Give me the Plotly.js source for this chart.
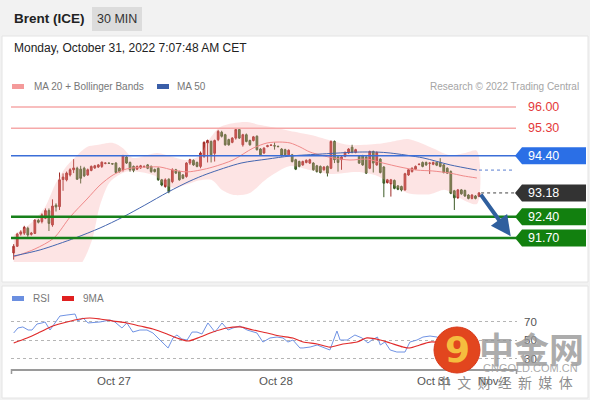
<!DOCTYPE html>
<html>
<head>
<meta charset="utf-8">
<script src="https://cdn.plot.ly/plotly-3.0.1.min.js"></script>
<style>
html,body{margin:0;padding:0;background:#f2f2f2;}
#chart{width:590px;height:400px;}
</style>
</head>
<body>
<div id="chart"></div>
<script>
// ---------- data ----------
const candleOpen = [91.21,91.43,91.83,91.86,92.02,91.82,91.85,92.28,92.24,92.35,
92.60,92.13,92.78,92.73,93.62,93.61,93.77,93.94,93.99,93.96,
93.99,93.77,93.92,94.00,94.03,94.05,94.15,94.16,94.14,94.16,
93.99,93.94,94.36,94.18,94.05,93.96,94.00,94.04,94.10,94.05,
93.95,93.99,93.61,93.39,93.63,93.55,93.94,93.88,93.77,93.72,
94.16,94.25,94.18,94.05,94.38,94.82,94.87,94.48,94.93,95.17,
95.09,94.93,94.84,94.98,95.26,
94.76,95.09,94.90,94.90,95.04,94.62,94.49,94.70,94.74,94.73,
94.71,94.62,94.60,94.43,94.43,94.27,94.21,94.10,94.18,94.16,
94.16,94.07,94.05,93.94,94.05,93.99,94.87,94.36,94.27,94.38,
94.49,94.68,94.51,94.38,94.40,94.36,93.99,94.54,94.10,94.29,
94.03,93.52,93.48,93.59,93.41,93.39,93.28,93.77,93.88,93.96,
94.11,94.18,94.18,94.15,94.12,94.18,94.18,94.10,93.99,93.88,
93.25,93.02,93.28,93.26,93.11,93.00,93.08,93.07];
const candleHigh = [91.50,91.87,91.95,92.10,92.07,91.90,92.31,92.33,92.51,92.67,
92.67,92.97,92.84,93.85,93.82,93.88,93.99,94.29,94.04,94.07,
94.04,93.98,94.08,94.10,94.13,94.21,94.18,94.18,94.16,94.19,
94.02,94.43,94.40,94.21,94.08,94.08,94.10,94.08,94.13,94.08,
93.98,94.02,93.64,93.66,93.66,93.99,93.97,93.91,93.80,94.19,
94.30,94.28,94.21,94.54,94.87,94.93,94.90,94.93,95.25,95.22,
95.12,94.96,95.01,95.29,95.29,
95.12,95.13,94.93,95.05,95.07,94.65,94.68,94.76,94.77,94.84,
94.73,94.65,94.63,94.61,94.46,94.30,94.24,94.24,94.28,94.30,
94.19,94.10,94.08,94.06,94.08,94.90,94.90,94.40,94.40,94.54,
94.65,94.76,94.63,94.41,94.43,94.39,94.57,94.57,94.54,94.32,
94.06,93.64,93.64,93.62,93.44,93.42,93.84,93.97,94.02,94.08,
94.15,94.21,94.21,94.18,94.21,94.21,94.32,94.13,94.02,93.92,
93.28,93.31,93.31,93.29,93.14,93.14,93.11,93.21];
const candleLow = [90.99,91.41,91.78,91.80,91.74,91.78,91.83,92.18,92.18,92.32,
91.93,92.07,92.57,92.62,93.25,93.56,93.72,93.83,93.61,93.49,
93.70,93.74,93.89,93.97,94.00,94.00,94.12,94.13,94.11,93.82,
93.85,93.88,94.13,93.88,93.86,93.93,93.97,94.01,93.96,93.84,
93.85,93.58,93.40,93.35,93.17,93.50,93.80,93.58,93.63,93.68,
94.10,94.07,94.02,93.99,94.33,94.18,94.18,94.21,94.88,95.00,
94.73,94.73,94.81,94.93,94.95,
94.70,94.84,94.73,94.87,94.57,94.40,94.46,94.68,94.72,94.60,
94.68,94.37,94.40,94.40,94.18,93.93,94.02,94.07,94.15,94.13,
93.91,93.85,93.82,93.91,93.72,93.96,94.16,93.88,93.94,94.35,
94.46,94.48,94.48,94.13,94.07,93.80,93.96,93.85,94.07,93.82,
93.04,93.49,93.06,93.30,93.27,93.23,93.25,93.74,93.85,93.93,
94.09,94.02,94.07,93.80,94.09,94.06,94.02,93.82,93.80,93.14,
92.62,92.99,93.12,93.05,92.97,92.97,92.97,93.04];
const candleClose = [91.43,91.83,91.90,92.05,91.80,91.86,92.29,92.22,92.46,92.60,
92.18,92.75,92.72,93.61,93.70,93.83,93.94,94.00,93.63,93.66,
93.74,93.94,94.05,94.07,94.10,94.19,94.16,94.15,94.13,93.85,
93.88,94.40,94.16,93.94,93.92,94.05,94.07,94.05,93.99,93.88,
93.88,93.61,93.44,93.61,93.22,93.94,93.83,93.61,93.66,94.16,
94.27,94.10,94.05,94.49,94.84,94.90,94.43,94.90,95.20,95.04,
94.76,94.76,94.98,95.26,94.98,
95.09,94.87,94.76,95.02,94.60,94.43,94.65,94.73,94.75,94.72,
94.70,94.40,94.43,94.58,94.21,93.96,94.05,94.21,94.25,94.27,
93.94,93.88,93.85,94.03,93.83,94.87,94.27,94.18,94.36,94.51,
94.62,94.51,94.60,94.16,94.10,93.83,94.54,94.16,94.51,93.85,
93.50,93.61,93.61,93.33,93.30,93.28,93.81,93.94,93.99,94.05,
94.12,94.05,94.10,94.16,94.18,94.09,94.05,93.85,93.83,93.17,
93.02,93.28,93.15,93.08,93.00,93.11,93.00,93.18];

// MA20 (read at sample candle positions)
const ma20X = [0,6.0,11.4,16.0,20.8,24.5,28.2,32.1,37.8,41.5,45.2,49.2,52.9,56.5,62.2,67.9,71.9,75.5,78.4,81.2,84.1,90.6,95.4,100.2,104.8,109.6,114.4,118.9,123.8,127.5,131.4];
const ma20Y = [91.08,91.34,91.70,92.39,92.98,93.44,93.77,93.97,94.03,94.03,93.93,93.87,93.93,94.03,94.26,94.65,94.82,94.85,94.82,94.69,94.52,94.33,94.26,94.29,94.16,94.03,93.93,93.90,93.83,93.74,93.67];
// MA50
const ma50X = [0,7.5,17.4,24.5,31.0,37.2,43.8,50.0,54.8,64.5,71.9,78.4,87.7,97.4,103.2,106.8,116.1,123.8,131.4];
const ma50Y = [91.11,91.31,91.70,92.03,92.39,92.78,93.21,93.57,93.80,94.16,94.29,94.39,94.46,94.52,94.52,94.49,94.33,94.10,93.93];
// Bollinger upper / lower
const bbUpX = [0,4.6,8.9,11.7,14.6,18.0,20.8,23.6,28.2,31.0,33.8,37.8,40.7,43.5,49.2,52.9,54.8,58.5,62.2,66.2,69.9,74.7,78.4,84.3,90.6,95.4,103.2,107.9,111.9,118.1,123.8,128.1,131.4];
const bbUpY = [91.80,92.16,92.72,93.44,94.00,94.42,94.69,94.75,94.82,94.65,94.33,94.42,94.49,94.42,94.26,94.42,94.82,95.34,95.47,95.51,95.41,95.31,95.21,95.08,94.88,94.75,94.79,94.88,94.95,94.69,94.42,94.49,94.56];
const bbLoX = [0,13.1,18.8,22.2,24.5,27.3,31.6,35.8,40.1,42.9,45.8,48.6,52.9,56.3,59.1,62.8,67.0,71.3,78.4,84.1,89.7,97.4,102.5,106.8,111.6,118.1,122.4,126.0,131.4];
const bbLoY = [90.49,90.49,90.81,91.63,92.78,93.54,93.87,93.87,93.74,93.44,93.34,93.44,93.60,93.60,93.28,93.11,93.18,93.60,94.06,93.93,93.80,93.87,93.77,93.51,93.18,93.14,93.28,93.05,92.82];

// RSI and its 9-period MA
const rsiX = [0,1.2,2.6,4.1,5.2,6.6,8.0,8.9,10.3,11.7,13.1,15.1,17.4,18.2,19.7,21.1,23.6,24.5,27.3,28.7,30.7,32.1,33.8,35.8,37.8,39.5,41.5,43.8,45.2,46.3,47.7,49.2,50.6,52.0,53.4,55.1,57.1,59.1,60.8,62.2,64.2,66.2,69.0,70.7,72.7,74.7,76.4,77.8,79.2,81.2,82.1,84.1,86.1,87.7,89.7,91.7,92.6,94.6,96.8,98.8,100.5,101.6,103.2,104.0,105.3,106.8,108.7,111.0,112.4,114.4,116.1,118.1,120.1,123.8,128.1,132.0];
const rsiY = [57.6,63.0,64.1,60.8,60.8,67.3,68.4,69.5,60.8,68.4,75.9,77.0,78.1,70.5,73.8,68.4,69.5,69.5,71.6,69.5,63.0,68.4,58.6,60.8,60.8,57.6,50.0,41.4,52.2,55.4,51.1,50.0,58.6,58.6,56.5,68.4,58.6,68.4,60.8,63.0,65.1,60.8,57.6,47.8,52.2,53.2,52.2,47.8,50.0,41.4,41.4,42.4,44.6,42.4,39.2,59.7,50.0,50.0,55.4,52.2,46.8,50.0,53.2,44.6,47.8,39.2,37.0,37.0,47.8,50.0,53.2,54.3,53.2,44.6,41.4,45.7];
const rsiMaX = [0,3.8,7.5,11.1,15.1,18.8,21.6,24.5,28.2,32.1,35.8,39.5,43.5,46.3,49.4,52.9,56.5,60.5,64.2,67.9,71.9,75.5,79.2,82.1,86.1,89.7,93.4,97.4,100.2,104.0,106.8,110.5,112.4,115.2,118.1,122.4,126.6,132.0];
const rsiMaY = [46.8,52.2,58.6,65.1,69.5,72.7,73.8,72.7,70.5,68.4,65.1,61.9,56.5,52.2,48.9,53.2,58.6,63.0,64.1,60.8,57.6,54.3,52.2,47.8,45.7,42.4,45.7,47.8,52.2,50.0,46.8,42.4,41.4,44.6,47.8,46.8,44.6,44.6];

// Key levels
const levelValues = [96.00, 95.30, 94.40, 93.18, 92.40, 91.70];
const levelLabels = ["96.00", "95.30", "94.40", "93.18", "92.40", "91.70"];
const levelKinds  = ["resist", "resist", "pivot", "last", "support", "support"];

// Date axis
const dateTickPos = [28.45, 74.4, 119.2, 136.0];
const dateTickText = ["Oct 27", "Oct 28", "Oct 31", "Nov 1"];
const rsiTicks = [30, 50, 70];

const lastIdx = candleClose.length - 1;
const targetPrice = levelValues[5];

// ---------- build ----------
const FONT = "Liberation Sans, Arial, sans-serif";
const xIdx = candleOpen.map((_, i) => i);

const traces = [];
traces.push({
  type: "scatter", mode: "lines", xaxis: "x", yaxis: "y",
  x: bbUpX.concat(bbLoX.slice().reverse()),
  y: bbUpY.concat(bbLoY.slice().reverse()),
  fill: "toself", fillcolor: "rgba(250,165,165,0.30)",
  line: {width: 0, shape: "spline", smoothing: 0.8}, hoverinfo: "skip"
});
traces.push({type: "scatter", mode: "lines", x: ma20X, y: ma20Y,
  line: {color: "#f08a8a", width: 1, shape: "spline", smoothing: 0.8}, hoverinfo: "skip"});
traces.push({type: "scatter", mode: "lines", x: ma50X, y: ma50Y,
  line: {color: "#4466b0", width: 1, shape: "spline", smoothing: 0.8}, hoverinfo: "skip"});
traces.push({
  type: "candlestick", x: xIdx, open: candleOpen, high: candleHigh, low: candleLow, close: candleClose,
  increasing: {line: {color: "#9e2a25", width: 1}, fillcolor: "#c8322c"},
  decreasing: {line: {color: "#3b5a25", width: 1}, fillcolor: "#4f7a2e"},
  whiskerwidth: 0, hoverinfo: "skip", xaxis: "x", yaxis: "y"
});
traces.push({type: "scatter", mode: "lines", x: rsiX, y: rsiY, xaxis: "x2", yaxis: "y2",
  line: {color: "#7093e4", width: 1}, hoverinfo: "skip"});
traces.push({type: "scatter", mode: "lines", x: rsiMaX, y: rsiMaY, xaxis: "x2", yaxis: "y2",
  line: {color: "#e02a2a", width: 1.2, shape: "spline", smoothing: 0.8}, hoverinfo: "skip"});

const W = 590, H = 400;
const px = v => v / W;
const py = v => (H - v) / H;

const xRange = [-0.766, 142.78];
const yRange = [90.913, 96.394];
const pxPerPrice = 30.47;
const xDomain = [px(11), px(517)];

const shapes = [
  {type: "rect", xref: "paper", yref: "paper", x0: px(2), x1: px(588), y0: py(282), y1: py(36),
   fillcolor: "#ffffff", line: {color: "#e4e4e4", width: 1}, layer: "below"},
  {type: "rect", xref: "paper", yref: "paper", x0: px(2), x1: px(588), y0: py(398), y1: py(286),
   fillcolor: "#ffffff", line: {color: "#e4e4e4", width: 1}, layer: "below"},
  {type: "rect", xref: "paper", yref: "paper", x0: px(92), x1: px(142), y0: py(31), y1: py(7),
   fillcolor: "#dcdcdc", line: {width: 0}},
  {type: "rect", xref: "paper", yref: "paper", x0: px(12), x1: px(24), y0: py(89), y1: py(84),
   fillcolor: "#f49a9a", line: {width: 0}},
  {type: "rect", xref: "paper", yref: "paper", x0: px(157), x1: px(169), y0: py(89), y1: py(84),
   fillcolor: "#3a5ea8", line: {width: 0}},
  {type: "rect", xref: "paper", yref: "paper", x0: px(12), x1: px(24), y0: py(301), y1: py(296),
   fillcolor: "#6b8fe0", line: {width: 0}},
  {type: "rect", xref: "paper", yref: "paper", x0: px(62), x1: px(74), y0: py(301), y1: py(296),
   fillcolor: "#e02020", line: {width: 0}},
  // axis end marks
  {type: "line", xref: "paper", yref: "paper", x0: px(11.5), x1: px(11.5), y0: py(369), y1: py(374),
   line: {color: "#9a9a9a", width: 1.5}},
  {type: "line", xref: "paper", yref: "paper", x0: px(516.5), x1: px(516.5), y0: py(369), y1: py(374),
   line: {color: "#9a9a9a", width: 1.5}},
];

function note(x, y, text, size, color, xanchor, family) {
  return {xref: "paper", yref: "paper", x: px(x), y: py(y), xanchor: xanchor || "left", yanchor: "middle",
    showarrow: false, text: text, font: {family: family || FONT, size: size, color: color}};
}

const annotations = [
  note(12, 19, "<b>Brent (ICE)</b>", 13.5, "#222"),
  note(117, 19, "30 MIN", 12.5, "#333", "center"),
  note(12, 48, "Monday, October 31, 2022 7:07:48 AM CET", 12, "#222"),
  note(32, 86.5, "MA 20 + Bollinger Bands", 10, "#777"),
  note(175, 86.5, "MA 50", 10, "#777"),
  note(581, 86.5, "Research © 2022 Trading Central", 10, "#a5a5a5", "right"),
  note(31, 298.5, "RSI", 10, "#777"),
  note(81, 298.5, "9MA", 10, "#777"),
];

const kindStyle = {
  resist:  {line: "#f6a9a9", width: 1.5, dash: "solid", box: null, text: "#e43a3a"},
  pivot:   {line: "#3b6ed8", width: 1.5, dash: "solid", box: "#2b6fe6", text: "#ffffff"},
  last:    {line: "#444444", width: 1, dash: "dot", box: "#333333", text: "#ffffff"},
  support: {line: "#17801a", width: 2.5, dash: "solid", box: "#12800f", text: "#ffffff"},
};
const half = 8.5 / pxPerPrice;
levelValues.forEach((v, k) => {
  const st = kindStyle[levelKinds[k]];
  if (levelKinds[k] === "last") {
    shapes.push({type: "line", xref: "x", yref: "y", x0: lastIdx + 0.6, x1: 142.2, y0: v, y1: v,
      line: {color: st.line, width: st.width, dash: st.dash}});
  } else {
    shapes.push({type: "line", xref: "paper", yref: "y", x0: px(11), x1: px(516), y0: v, y1: v,
      line: {color: st.line, width: st.width, dash: st.dash}});
  }
  if (st.box) {
    const a = px(515), b = px(522), c = px(586);
    shapes.push({type: "path", xref: "paper", yref: "y",
      path: `M ${a},${v} L ${b},${v + half} L ${c},${v + half} L ${c},${v - half} L ${b},${v - half} Z`,
      fillcolor: st.box, line: {width: 0}});
  }
  annotations.push({xref: "paper", yref: "y", x: px(526), y: v, xanchor: "left", yanchor: "middle",
    showarrow: false, text: levelLabels[k], font: {family: FONT, size: 12.5, color: st.text}});
});
shapes.push({type: "line", xref: "x", yref: "y", x0: ma50X[ma50X.length - 1] + 0.6, x1: 142.2,
  y0: ma50Y[ma50Y.length - 1], y1: ma50Y[ma50Y.length - 1], line: {color: "#5a7fd0", width: 1, dash: "dot"}});

// forecast arrow
annotations.push({xref: "x", yref: "y", x: 141.0, y: targetPrice + 0.06, axref: "pixel", ayref: "pixel",
  ax: -31, ay: -43, showarrow: true, arrowhead: 2, arrowsize: 1, arrowwidth: 4, arrowcolor: "#2f5f9e",
  text: "", standoff: 0});

// watermark
shapes.push({type: "circle", xref: "paper", yref: "paper", x0: px(434), x1: px(480), y0: py(373), y1: py(327),
  fillcolor: "#e2461e", line: {color: "#d9381a", width: 1}});
annotations.push(note(457, 349, "<b>9</b>", 36, "#f5bd3e", "center", "DejaVu Sans, sans-serif"));
annotations.push(note(531, 347, "<b>中金网</b>", 35, "rgba(150,150,150,0.8)", "center", "Noto Sans CJK SC"));
annotations.push(note(530, 368, "CNGOLD.COM.CN", 11, "rgba(160,160,160,0.9)", "center"));
annotations.push(note(505, 382, "中  文  财  经  新  媒  体", 14, "rgba(120,120,120,0.85)", "center", "Noto Sans CJK SC"));

const layout = {
  width: W, height: H, margin: {l: 0, r: 0, t: 0, b: 0},
  paper_bgcolor: "#f2f2f2", plot_bgcolor: "rgba(0,0,0,0)",
  showlegend: false, font: {family: FONT},
  xaxis: {domain: xDomain, range: xRange, anchor: "y", showticklabels: false, showgrid: false,
    zeroline: false, showline: false, ticks: "", rangeslider: {visible: false}, fixedrange: true},
  yaxis: {domain: [py(262), py(95)], range: yRange, anchor: "x", showticklabels: false, showgrid: false,
    zeroline: false, showline: false, ticks: "", fixedrange: true},
  xaxis2: {domain: xDomain, range: xRange, anchor: "y2", showgrid: false, zeroline: false,
    showline: true, linecolor: "#9a9a9a", linewidth: 2, ticks: "",
    tickvals: dateTickPos, ticktext: dateTickText, tickfont: {family: FONT, size: 11.5, color: "#555"},
    fixedrange: true},
  yaxis2: {domain: [py(369), py(305)], range: [18.65, 87.84], anchor: "x2", side: "right",
    tickvals: rsiTicks, ticks: "", showgrid: true, gridcolor: "#b5b5b5", griddash: "dot", gridwidth: 1,
    zeroline: false, showline: false, ticklabelstandoff: 6,
    tickfont: {family: FONT, size: 11.5, color: "#555"}, fixedrange: true},
  shapes: shapes, annotations: annotations
};

Plotly.newPlot("chart", traces, layout, {displayModeBar: false, staticPlot: true});
</script>
</body>
</html>
